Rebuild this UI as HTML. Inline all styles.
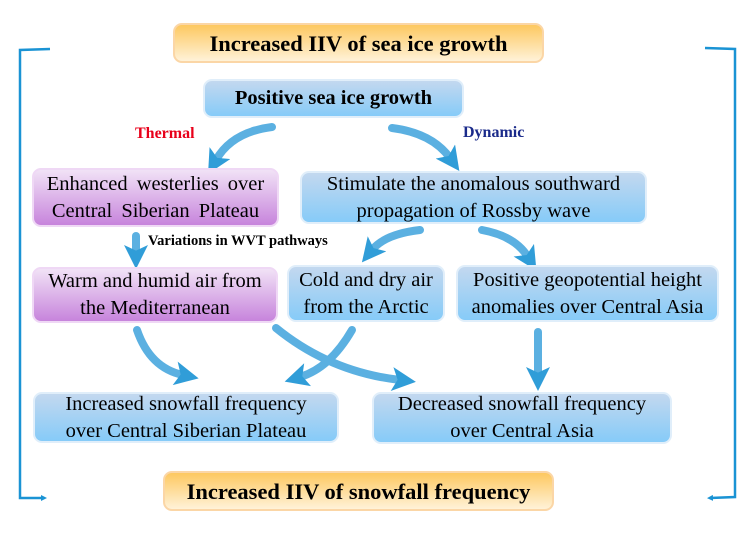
<!DOCTYPE html>
<html><head><meta charset="utf-8"><style>
body{margin:0;width:752px;height:534px;background:#fff;position:relative;overflow:hidden;font-family:"Liberation Serif",serif;color:#000}
.b{position:absolute;box-sizing:border-box;display:flex;align-items:center;justify-content:center;text-align:center;border-radius:9px;line-height:27px;font-size:20.5px}
.o{background:linear-gradient(#fdc860,#fff2d8);border:2px solid #fbd6a6;font-weight:bold;font-size:22.5px}
.bl{background:linear-gradient(#c3d8ef,#86cbf8);border:2px solid #e0eefa}
.p{background:linear-gradient(#f1e2f6,#c784dc);border:2px solid #efd8f5}
.t{position:absolute;font-weight:bold;white-space:nowrap}
</style></head><body>
<svg width="752" height="534" style="position:absolute;left:0;top:0">
<defs>
<marker id="m" markerWidth="3" markerHeight="3" refX="1" refY="1.5" orient="auto" markerUnits="strokeWidth"><path d="M0,0 L3,1.5 L0,3 L0.7,1.5Z" fill="#1a93d4"/></marker>
<marker id="s" markerWidth="6" markerHeight="6" refX="3" refY="3" orient="auto" markerUnits="userSpaceOnUse"><path d="M0,0 L6,3 L0,6Z" fill="#1a93d4"/></marker>
</defs>
<g fill="none" stroke="#1a93d4" stroke-width="2.5">
<path d="M50,49 L20,50 L20,498 L44,498" marker-end="url(#s)"/>
<path d="M705,48 L735,49 L735,497 L710,498" marker-end="url(#s)"/>
</g>
<g fill="none" stroke="#4aa8de" stroke-width="8" stroke-linecap="round" opacity="0.9">
<path d="M272,127 Q232,132 216,160" marker-end="url(#m)"/>
<path d="M392,128 Q432,133 450,158" marker-end="url(#m)"/>
<path d="M136,236 L136,253" marker-end="url(#m)"/>
<path d="M420,230 Q385,234 372,250" marker-end="url(#m)"/>
<path d="M482,230 Q515,236 528,257" marker-end="url(#m)"/>
<path d="M137,330 Q150,368 183,375" marker-end="url(#m)"/>
<path d="M352,330 Q330,368 300,377" marker-end="url(#m)"/>
<path d="M276,328 Q330,372 400,380" marker-end="url(#m)"/>
<path d="M538,332 L538,375" marker-end="url(#m)"/>
</g>
</svg>
<div class="b o" style="left:173px;top:23px;width:371px;height:40px">Increased IIV of sea ice growth</div>
<div class="b bl" style="left:203px;top:79px;width:261px;height:39px;font-weight:bold">Positive sea ice growth</div>
<div class="t" style="left:135px;top:125px;color:#e8001a;font-size:16px">Thermal</div>
<div class="t" style="left:463px;top:124px;color:#1a2a8a;font-size:16px">Dynamic</div>
<div class="b p" style="left:32px;top:168px;width:247px;height:59px;word-spacing:4px">Enhanced westerlies over<br>Central Siberian Plateau</div>
<div class="b bl" style="left:300px;top:171px;width:347px;height:53px">Stimulate the anomalous southward<br>propagation of Rossby wave</div>
<div class="t" style="left:148px;top:233px;font-size:14.5px">Variations in WVT pathways</div>
<div class="b p" style="left:32px;top:267px;width:246px;height:56px">Warm and humid air from<br>the Mediterranean</div>
<div class="b bl" style="left:287px;top:265px;width:158px;height:57px">Cold and dry air<br>from the Arctic</div>
<div class="b bl" style="left:456px;top:265px;width:263px;height:57px">Positive geopotential height<br>anomalies over Central Asia</div>
<div class="b bl" style="left:33px;top:392px;width:306px;height:51px">Increased snowfall frequency<br>over Central Siberian Plateau</div>
<div class="b bl" style="left:372px;top:392px;width:300px;height:52px">Decreased snowfall frequency<br>over Central Asia</div>
<div class="b o" style="left:163px;top:471px;width:391px;height:40px">Increased IIV of snowfall frequency</div>
</body></html>
